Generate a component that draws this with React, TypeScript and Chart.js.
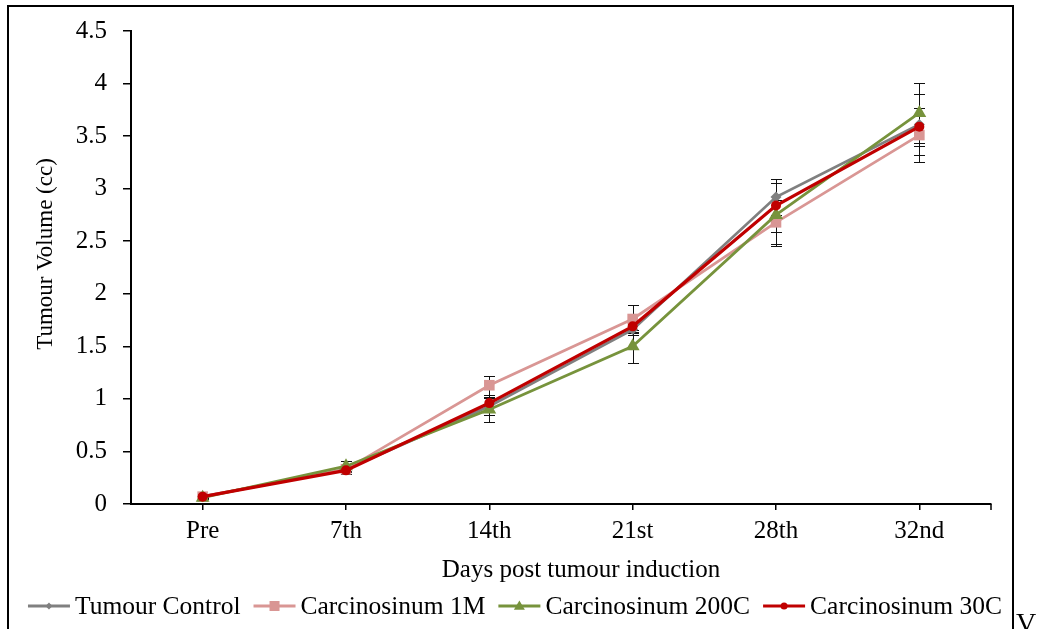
import React, { useEffect, useRef } from "react";
import { Chart, registerables } from "chart.js";

Chart.register(...registerables);

// Sampling days after tumour induction
const days = ["Pre", "7th", "14th", "21st", "28th", "32nd"];

// Series names, in legend order
const seriesNames = ["Tumour Control", "Carcinosinum 1M", "Carcinosinum 200C", "Carcinosinum 30C"];

// Mean tumour volume (cc)
const tumourControl = [0.07, 0.33, 0.93, 1.66, 2.92, 3.61];
const carcinosinum1M = [0.07, 0.33, 1.13, 1.76, 2.68, 3.51];
const carcinosinum200C = [0.06, 0.36, 0.9, 1.5, 2.75, 3.72];
const carcinosinum30C = [0.07, 0.32, 0.96, 1.69, 2.84, 3.59];

// Error (± cc) for each mean
const tumourControlErr = [0.01, 0.03, 0.08, 0.05, 0.17, 0.29];
const carcinosinum1MErr = [0.01, 0.03, 0.09, 0.13, 0.21, 0.26];
const carcinosinum200CErr = [0.01, 0.05, 0.12, 0.16, 0.3, 0.29];
const carcinosinum30CErr = [0.01, 0.03, 0.08, 0.05, 0.25, 0.18];

// Y axis tick values
const yTicks = [0, 0.5, 1, 1.5, 2, 2.5, 3, 3.5, 4, 4.5];

const seriesValues = [tumourControl, carcinosinum1M, carcinosinum200C, carcinosinum30C];
const seriesErrors = [tumourControlErr, carcinosinum1MErr, carcinosinum200CErr, carcinosinum30CErr];
const seriesColors = ["#808080", "#D99694", "#77933C", "#C00000"];
const seriesPoints = ["rectRot", "rect", "triangle", "circle"];
const seriesRadius = [5.5, 7.5, 8, 5];
const seriesOrder = [3, 2, 1, 0];

const SERIF = '"Liberation Serif", "Times New Roman", serif';

function drawMarker(ctx: CanvasRenderingContext2D, style: string, x: number, y: number, r: number, color: string) {
  ctx.save();
  ctx.fillStyle = color;
  ctx.beginPath();
  if (style === "circle") {
    ctx.arc(x, y, r, 0, Math.PI * 2);
  } else if (style === "rect") {
    ctx.rect(x - r, y - r, 2 * r, 2 * r);
  } else if (style === "rectRot") {
    ctx.moveTo(x, y - r);
    ctx.lineTo(x + r, y);
    ctx.lineTo(x, y + r);
    ctx.lineTo(x - r, y);
    ctx.closePath();
  } else if (style === "triangle") {
    ctx.moveTo(x, y - r);
    ctx.lineTo(x + r, y + r * 0.7);
    ctx.lineTo(x - r, y + r * 0.7);
    ctx.closePath();
  }
  ctx.fill();
  ctx.restore();
}

// Vertical error bars with caps, under the lines and markers
const errorBars = {
  id: "errorBars",
  beforeDatasetsDraw(chart: any) {
    const ctx = chart.ctx;
    const y = chart.scales.y;
    ctx.save();
    ctx.strokeStyle = "#111";
    ctx.lineWidth = 1;
    seriesValues.forEach((vals, i) => {
      const meta = chart.getDatasetMeta(i);
      vals.forEach((v, j) => {
        const e = seriesErrors[i][j];
        const px = Math.round(meta.data[j].x) + 0.5;
        const top = Math.round(y.getPixelForValue(v + e)) + 0.5;
        const bot = Math.round(y.getPixelForValue(v - e)) + 0.5;
        ctx.beginPath();
        ctx.moveTo(px, top);
        ctx.lineTo(px, bot);
        ctx.moveTo(px - 5.5, top);
        ctx.lineTo(px + 5.5, top);
        ctx.moveTo(px - 5.5, bot);
        ctx.lineTo(px + 5.5, bot);
        ctx.stroke();
      });
    });
    ctx.restore();
  },
};

// Frame, axis titles, legend and loose text
const decorations = {
  id: "decorations",
  afterDraw(chart: any) {
    const ctx = chart.ctx;
    const area = chart.chartArea;
    ctx.save();

    // outer frame (open at the bottom)
    ctx.strokeStyle = "#000";
    ctx.lineWidth = 2;
    ctx.beginPath();
    ctx.moveTo(8, 640);
    ctx.lineTo(8, 6);
    ctx.lineTo(1013, 6);
    ctx.lineTo(1013, 640);
    ctx.stroke();

    // closing tick at the right end of the category axis
    ctx.lineWidth = 1.5;
    ctx.beginPath();
    ctx.moveTo(area.right, area.bottom);
    ctx.lineTo(area.right, area.bottom + 6);
    ctx.stroke();

    ctx.fillStyle = "#000";

    // x axis title
    ctx.font = `25px ${SERIF}`;
    ctx.textAlign = "center";
    ctx.textBaseline = "alphabetic";
    ctx.fillText("Days post tumour induction", 581, 577);

    // y axis title
    ctx.save();
    ctx.translate(52, 254);
    ctx.rotate(-Math.PI / 2);
    ctx.font = `23px ${SERIF}`;
    ctx.textAlign = "center";
    ctx.fillText("Tumour Volume (cc)", 0, 0);
    ctx.restore();

    // legend
    ctx.font = `25.5px ${SERIF}`;
    ctx.textAlign = "left";
    const lineLen = 42;
    const textGap = 5;
    const itemGap = 13;
    const widths = seriesNames.map((n) => ctx.measureText(n).width);
    const total = widths.reduce((a, w) => a + lineLen + textGap + w, 0) + itemGap * (seriesNames.length - 1);
    let x = 515 - total / 2;
    const ly = 606;
    seriesNames.forEach((name, i) => {
      ctx.strokeStyle = seriesColors[i];
      ctx.lineWidth = 3;
      ctx.beginPath();
      ctx.moveTo(x, ly);
      ctx.lineTo(x + lineLen, ly);
      ctx.stroke();
      const legendR = [3.5, 5, 5.5, 3.5][i];
      drawMarker(ctx, seriesPoints[i], x + lineLen / 2, ly, legendR, seriesColors[i]);
      ctx.fillStyle = "#000";
      ctx.fillText(name, x + lineLen + textGap, 614);
      x += lineLen + textGap + widths[i] + itemGap;
    });

    // stray letter beside the frame
    ctx.font = `28px ${SERIF}`;
    ctx.fillText("V", 1016, 632);

    ctx.restore();
  },
};

export default function App() {
  const canvasRef = useRef<HTMLCanvasElement | null>(null);

  useEffect(() => {
    const canvas = canvasRef.current;
    if (!canvas) return;
    const chart = new Chart(canvas, {
      type: "line",
      data: {
        labels: days,
        datasets: seriesValues.map((vals, i) => ({
          label: seriesNames[i],
          data: vals,
          borderColor: seriesColors[i],
          backgroundColor: seriesColors[i],
          borderWidth: i === 3 ? 3.25 : 2.75,
          pointStyle: seriesPoints[i] as any,
          pointRadius: seriesRadius[i],
          pointBorderWidth: 0,
          pointBackgroundColor: seriesColors[i],
          tension: 0,
          fill: false,
          order: seriesOrder[i],
          clip: false as any,
        })),
      },
      options: {
        responsive: false,
        animation: false,
        devicePixelRatio: 1,
        layout: { padding: { left: 0, right: 49, top: 28, bottom: 0 } },
        plugins: {
          legend: { display: false },
          title: { display: false },
          tooltip: { enabled: false },
        },
        scales: {
          x: {
            type: "category",
            offset: true,
            grid: {
              display: true,
              drawOnChartArea: false,
              drawTicks: true,
              tickLength: 6,
              color: "#000",
              lineWidth: 1.5,
            },
            border: { display: true, color: "#000", width: 2 },
            ticks: {
              color: "#000",
              font: { family: SERIF, size: 25 },
              padding: 6,
              maxRotation: 0,
            },
            afterFit(scale: any) {
              scale.height = 125;
            },
          },
          y: {
            min: 0,
            max: 4.5,
            afterBuildTicks(scale: any) {
              scale.ticks = yTicks.map((v) => ({ value: v }));
            },
            grid: {
              display: true,
              drawOnChartArea: false,
              drawTicks: true,
              tickLength: 8,
              color: "#000",
              lineWidth: 1.5,
            },
            border: { display: true, color: "#000", width: 2 },
            ticks: {
              color: "#000",
              font: { family: SERIF, size: 25 },
              padding: 16,
              callback: (v: any) => String(v),
            },
            afterFit(scale: any) {
              scale.width = 131;
            },
          },
        },
      },
      plugins: [errorBars, decorations],
    });
    return () => chart.destroy();
  }, []);

  return (
    <div style={{ position: "fixed", left: 0, top: 0, width: 1040, height: 629, background: "#fff" }}>
      <canvas ref={canvasRef} width={1040} height={629} style={{ display: "block" }} />
    </div>
  );
}
